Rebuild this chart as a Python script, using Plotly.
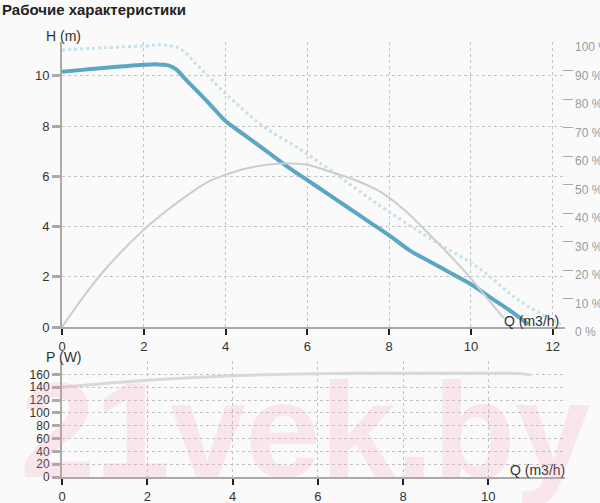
import plotly.graph_objects as go

# Рабочие характеристики насоса
# напор H (m) по расходу Q (m3/h)
q_h = [0, 0.5, 1, 1.5, 2, 2.3, 2.6, 2.8, 3.0, 3.3, 3.6, 4.0, 4.5, 5.0, 5.5, 6.0,
       6.5, 7.0, 7.5, 8.0, 8.5, 9.0, 9.5, 10.0, 10.5, 11.0, 11.4]
h = [10.16, 10.24, 10.31, 10.38, 10.44, 10.46, 10.42, 10.25, 9.9, 9.4, 8.9, 8.2,
     7.6, 7.0, 6.4, 5.85, 5.3, 4.75, 4.2, 3.65, 3.05, 2.6, 2.15, 1.7, 1.15, 0.6, 0.1]

# максимальная кривая (пунктир)
q_max = [0, 1, 2, 2.5, 2.9, 3.3, 3.6, 3.9, 4.2, 4.5, 5.0, 5.8, 6.6, 7.8, 9.0,
         10.2, 11.2, 12.2]
h_max = [11.03, 11.12, 11.19, 11.23, 11.07, 10.44, 9.95, 9.45, 9.0, 8.55, 7.9,
         7.1, 6.2, 4.8, 3.53, 2.34, 1.03, 0.1]

# КПД, %
q_eff = [0, 0.5, 1.0, 2.0, 2.9, 3.6, 4.0, 4.5, 5.0, 5.5, 6.0, 6.6, 7.3, 7.8,
         8.4, 8.9, 9.5, 10.0, 10.5, 10.8]
eff = [0, 10.1, 19.3, 34.1, 44.5, 51.2, 53.4, 55.6, 56.9, 57.5, 56.9, 54.3,
       50.8, 47.3, 40.7, 33.7, 24.9, 17.0, 8.3, 3.2]

# мощность P (W)
q_p = [0, 1, 2, 3, 4, 5, 6, 7, 8, 9, 10, 10.8, 11.0]
p = [140, 146, 151, 155, 158, 160, 161, 162, 162, 162, 162, 161, 159]

h_ticks = [0, 2, 4, 6, 8, 10]
pct_ticks = list(range(0, 101, 10))
pct_labels = [f"{v} %" for v in pct_ticks]
q_ticks_top = [0, 2, 4, 6, 8, 10, 12]
q_ticks_bottom = [0, 2, 4, 6, 8, 10]
p_ticks = list(range(0, 161, 20))

W, H = 600, 503
FONT = "Liberation Sans, Arial, sans-serif"


def px_x(x):
    return x / W


def px_y(y):
    return 1 - y / H


fig = go.Figure()

fig.add_trace(go.Scatter(
    x=q_max, y=h_max, mode="lines", line=dict(color="#c6e1eb", width=3, dash="dot"),
    line_shape="spline", xaxis="x", yaxis="y", hoverinfo="skip",
))
fig.add_trace(go.Scatter(
    x=q_eff, y=eff, mode="lines", line=dict(color="#cdcdcd", width=2),
    line_shape="spline", xaxis="x", yaxis="y2",
))
fig.add_trace(go.Scatter(
    x=q_h, y=h, mode="lines", line=dict(color="#5ba7c3", width=4),
    line_shape="spline", xaxis="x", yaxis="y",
))
fig.add_trace(go.Scatter(
    x=q_p, y=p, mode="lines", line=dict(color="#d9d9d9", width=3),
    line_shape="spline", xaxis="x2", yaxis="y3",
))

xdom = [px_x(62), px_x(565)]
grid = dict(showgrid=True, gridcolor="#c4c4c4", griddash="dot", gridwidth=1,
            zeroline=False, automargin=False)
xcommon = dict(
    domain=xdom, showline=True, linecolor="#aaaaaa", linewidth=2,
    ticks="outside", tickcolor="#222", ticklen=6, tickwidth=2,
    tickfont=dict(size=13, color="#333"), **grid,
)
ycommon = dict(
    showline=True, linecolor="#aaaaaa", linewidth=2,
    ticks="outside", tickcolor="#aaaaaa", ticklen=8, tickwidth=3,
    tickfont=dict(size=13, color="#333"), **grid,
)

fig.update_layout(
    width=W, height=H,
    margin=dict(l=0, r=0, t=0, b=0),
    paper_bgcolor="#fafafa", plot_bgcolor="#fafafa",
    font=dict(family=FONT, color="#333"),
    showlegend=False,
    xaxis=dict(anchor="y", range=[0, 12.3], tickvals=q_ticks_top, **xcommon),
    yaxis=dict(domain=[px_y(327), px_y(42)], anchor="x", range=[0, 11.35],
               tickvals=h_ticks, **ycommon),
    yaxis2=dict(overlaying="y", side="right", anchor="free", position=px_x(573),
                range=[0, 100], tickvals=pct_ticks, ticktext=pct_labels,
                ticks="inside", ticklen=10, tickwidth=1, tickcolor="#aaaaaa",
                tickfont=dict(size=12, color="#9a9a9a"), ticklabelshift=5,
                ticklabelstandoff=1,
                showgrid=False, showline=False, zeroline=False, automargin=False),
    xaxis2=dict(anchor="y3", range=[0, 11.8], tickvals=q_ticks_bottom, **xcommon),
    yaxis3=dict(domain=[px_y(477), px_y(361)], anchor="x2", range=[0, 181],
                tickvals=p_ticks, **{**ycommon, "tickfont": dict(size=12, color="#333")}),
)

ann = [
    dict(text="<b>Рабочие характеристики</b>", x=0, y=px_y(9), xanchor="left",
         font=dict(size=15, color="#222")),
    dict(text="H (m)", x=px_x(44), y=px_y(36), xanchor="left", font=dict(size=14)),
    dict(text="Q (m3/h)", x=px_x(561), y=px_y(321), xanchor="right", font=dict(size=14)),
    dict(text="P (W)", x=px_x(44), y=px_y(357), xanchor="left", font=dict(size=14)),
    dict(text="Q (m3/h)", x=px_x(567), y=px_y(470), xanchor="right", font=dict(size=14)),
    dict(text="<b>21vek.by</b>", x=px_x(305), y=px_y(430), xanchor="center",
         font=dict(size=135, color="rgba(245,150,175,0.2)")),
]
for a in ann:
    fig.add_annotation(xref="paper", yref="paper", yanchor="middle", showarrow=False, **a)

# убрать отступ body, чтобы график занял окно целиком
fig.write_html("out.html", config={"displayModeBar": False},
               post_script="document.body.style.margin='0';")
